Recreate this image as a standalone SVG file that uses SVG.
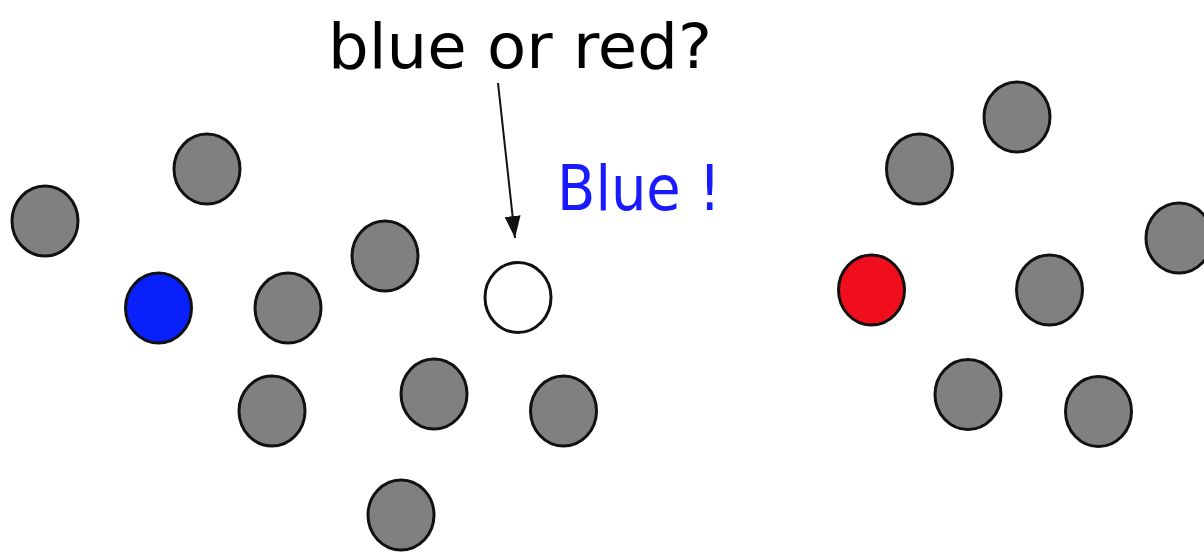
<svg xmlns="http://www.w3.org/2000/svg" width="1204" height="553" viewBox="0 0 1204 553">
<style>
.pt{stroke:#111;stroke-width:3}
.g{fill:#808080}
.lbl{font-family:"Comic Sans MS","DejaVu Sans",sans-serif}
</style>
<defs>
<marker id="ah2" markerWidth="22" markerHeight="16" refX="22" refY="8" orient="auto" markerUnits="userSpaceOnUse" viewBox="0 0 22 16">
<path d="M0,0 L22,8 L0,16 Z" fill="#111"/>
</marker>
</defs>
<rect width="1204" height="553" fill="#fff"/>
<g id="n1"><ellipse class="pt g" cx="45" cy="221" rx="33" ry="35"/></g>
<g id="n2"><ellipse class="pt g" cx="207" cy="169" rx="33" ry="35"/></g>
<g id="n3"><ellipse class="pt" fill="#0a20fb" cx="158.5" cy="308" rx="33" ry="35"/></g>
<g id="n4"><ellipse class="pt g" cx="288" cy="308" rx="33" ry="35"/></g>
<g id="n5"><ellipse class="pt g" cx="385" cy="256" rx="33" ry="35"/></g>
<g id="n6"><ellipse class="pt" fill="#fff" cx="518" cy="297.5" rx="33" ry="35"/></g>
<g id="n7"><ellipse class="pt g" cx="272" cy="411" rx="33" ry="35"/></g>
<g id="n8"><ellipse class="pt g" cx="434" cy="394" rx="33" ry="35"/></g>
<g id="n9"><ellipse class="pt g" cx="563.5" cy="411" rx="33" ry="35"/></g>
<g id="n10"><ellipse class="pt g" cx="401" cy="515" rx="33" ry="35"/></g>
<g id="n11"><ellipse class="pt g" cx="1017" cy="117" rx="33" ry="35"/></g>
<g id="n12"><ellipse class="pt g" cx="919.5" cy="169" rx="33" ry="35"/></g>
<g id="n13"><ellipse class="pt g" cx="1179" cy="238" rx="33" ry="35"/></g>
<g id="n14"><ellipse class="pt" fill="#f00d1c" cx="871.5" cy="290" rx="33" ry="35"/></g>
<g id="n15"><ellipse class="pt g" cx="1049.5" cy="290" rx="33" ry="35"/></g>
<g id="n16"><ellipse class="pt g" cx="968" cy="394.5" rx="33" ry="35"/></g>
<g id="n17"><ellipse class="pt g" cx="1098.5" cy="411.5" rx="33" ry="35"/></g>
<g id="labels">
<text class="lbl" x="328" y="68" font-size="63" fill="#000" textLength="384" lengthAdjust="spacingAndGlyphs">blue or red?</text>
<text class="lbl" x="557" y="210" font-size="63" fill="#1a1aff" textLength="164" lengthAdjust="spacingAndGlyphs">Blue !</text>
</g>
<g id="connectors">
<line x1="498" y1="83" x2="515" y2="238" stroke="#111" stroke-width="2" marker-end="url(#ah2)"/>
</g>
</svg>
